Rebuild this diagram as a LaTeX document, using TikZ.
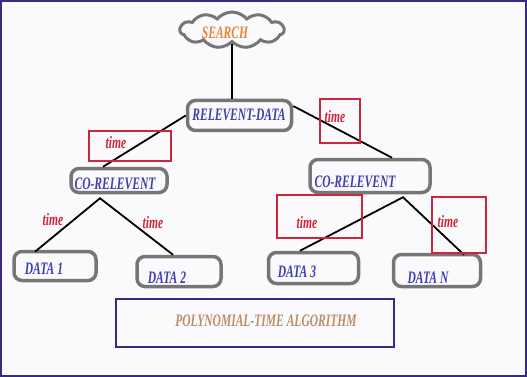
\documentclass[tikz,border=0pt]{standalone}
\usepackage{fontspec}
\newfontfamily\diafont[FakeStretch=0.66]{Liberation Serif}
\usetikzlibrary{shapes,calc,positioning}
\definecolor{boxgray}{RGB}{118,118,118}
\definecolor{textblue}{RGB}{62,62,178}
\definecolor{timered}{RGB}{205,38,58}
\definecolor{searchorange}{RGB}{232,132,58}
\definecolor{algotan}{RGB}{186,142,104}
\definecolor{framenavy}{RGB}{52,42,138}
\definecolor{paper}{RGB}{250,250,252}

\tikzset{
    diafont/.style={font=\diafont\bfseries\itshape\fontsize{17.5}{18}\selectfont, inner sep=0pt},
    databox/.style={draw=boxgray, line width=3.5pt, rounded corners=8pt},
    bluetext/.style={diafont, text=textblue},
    timetext/.style={diafont, text=timered},
    timebox/.style={draw=timered, line width=1.3pt},
    link/.style={black, line width=1.8pt}
}

\begin{document}
\begin{tikzpicture}[x=1pt,y=-1pt]
    \useasboundingbox (0,0) rectangle (527,377);
    % Frame
    \draw[framenavy, line width=2pt, fill=paper] (1,1) rectangle (526,376);

    % Cloud on top
    \node[cloud, cloud puffs=11, cloud puff arc=100, aspect=3, draw=boxgray, line width=3pt,
          minimum width=104, minimum height=36, inner sep=0pt] (search) at (232,30) {};
    \node[diafont, text=searchorange] (searchtext) at (225,33) {SEARCH};

    % Tree boxes
    \node[databox, minimum width=104, minimum height=30] (rd) at (239.5,115.5) {};
    \node[databox, minimum width=96, minimum height=24] (cl) at (119,180.5) {};
    \node[databox, minimum width=120, minimum height=33] (cr) at (370,176) {};
    \foreach \name/\x/\y/\w/\h in {d1/55/266/82/29, d2/179/271.5/84/30, d3/313.5/268/90/31, dn/437/270.5/87/32}{
        \node[databox, minimum width=\w, minimum height=\h] (\name) at (\x,\y) {};
    }

    % Texts in the boxes
    \node[bluetext] (rdtext) at (239,115) {RELEVENT-DATA};
    \node[bluetext] (cltext) at (115,184) {CO-RELEVENT};
    \node[bluetext] (crtext) at (355,182) {CO-RELEVENT};
    \foreach \name/\x/\y/\text in {d1text/44/269/DATA 1, d2text/167/278/DATA 2, d3text/297/272/DATA 3, dntext/428/278/DATA N}{
        \node[bluetext] (\name) at (\x,\y) {\text};
    }

    % Connectors
    \draw[link] (search.south) -- (search.south |- rd.north);
    \draw[link] (rd.west) -- ($(cl.north)+(-16,0)$);
    \draw[link] (rd.10) -- ($(cr.north)+(22,0)$);
    \coordinate (clfoot) at ($(cl.south)+(-19,4)$);
    \coordinate (crfoot) at ($(cr.south)+(33,3)$);
    \draw[link] ($(d1.north)+(-20,2)$) -- (clfoot) -- ($(d2.north)+(-6,0)$);
    \draw[link] ($(d3.north)+(-13.5,0)$) -- (crfoot) -- ($(dn.north)+(27,2)$);

    % Time labels
    \draw[timebox] (89,131) rectangle (171,161);
    \draw[timebox] (320,99) rectangle (360,143);
    \draw[timebox] (277,195) rectangle (362,238);
    \draw[timebox] (432,197) rectangle (486,253);
    \foreach \name/\x/\y in {t1/116/143, t2/335/117, t3/53/220, t4/153/223, t5/307/223, t6/448/222}{
        \node[timetext] (\name) at (\x,\y) {time};
    }

    % Bottom box
    \node[draw=framenavy, line width=2pt, minimum width=278, minimum height=48] (algobox) at (255,323) {};
    \node[diafont, text=algotan] (algo) at (266,321) {POLYNOMIAL-TIME ALGORITHM};
\end{tikzpicture}
\end{document}
